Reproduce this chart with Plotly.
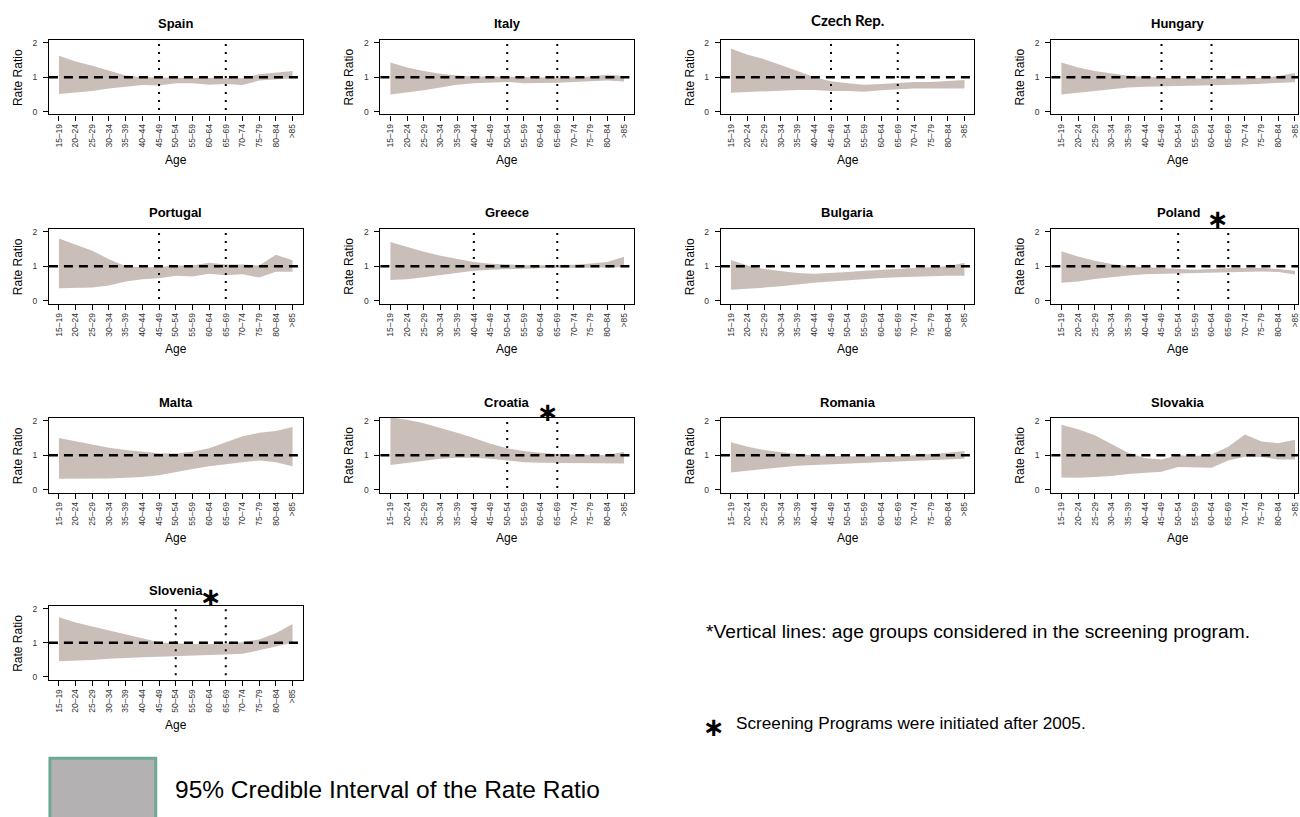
import plotly.graph_objects as go

# ---------------- data ----------------
ages = ["15–19", "20–24", "25–29", "30–34", "35–39", "40–44", "45–49", "50–54",
        "55–59", "60–64", "65–69", "70–74", "75–79", "80–84", ">85"]

countries = ["Spain", "Italy", "Czech Rep.", "Hungary",
             "Portugal", "Greece", "Bulgaria", "Poland",
             "Malta", "Croatia", "Romania", "Slovakia",
             "Slovenia"]

spain_lo = [0.51, 0.55, 0.60, 0.67, 0.73, 0.77, 0.76, 0.82, 0.82, 0.78, 0.80, 0.77, 0.90, 0.93, 0.97]
spain_hi = [1.62, 1.45, 1.33, 1.20, 1.05, 1.00, 0.98, 0.98, 0.98, 0.98, 0.98, 0.97, 1.08, 1.12, 1.18]

italy_lo = [0.50, 0.55, 0.62, 0.70, 0.78, 0.82, 0.85, 0.86, 0.82, 0.82, 0.84, 0.86, 0.88, 0.90, 0.87]
italy_hi = [1.42, 1.28, 1.18, 1.10, 1.05, 1.02, 1.02, 1.01, 0.98, 0.98, 0.98, 1.00, 1.02, 1.07, 1.03]

czech_lo = [0.55, 0.57, 0.60, 0.62, 0.63, 0.63, 0.60, 0.60, 0.58, 0.62, 0.65, 0.67, 0.67, 0.67, 0.67]
czech_hi = [1.83, 1.65, 1.52, 1.36, 1.18, 1.00, 0.88, 0.82, 0.78, 0.80, 0.84, 0.86, 0.86, 0.88, 0.92]

hungary_lo = [0.50, 0.55, 0.60, 0.65, 0.70, 0.72, 0.73, 0.74, 0.75, 0.75, 0.77, 0.79, 0.81, 0.83, 0.85]
hungary_hi = [1.42, 1.28, 1.18, 1.10, 1.04, 1.01, 0.98, 0.97, 0.96, 0.95, 0.96, 0.97, 0.98, 1.03, 1.12]

portugal_lo = [0.36, 0.36, 0.38, 0.44, 0.56, 0.62, 0.65, 0.72, 0.70, 0.78, 0.74, 0.77, 0.67, 0.84, 0.84]
portugal_hi = [1.80, 1.63, 1.45, 1.20, 1.00, 0.97, 0.98, 1.02, 1.02, 1.10, 1.05, 1.05, 1.02, 1.33, 1.17]

greece_lo = [0.60, 0.62, 0.68, 0.75, 0.82, 0.87, 0.90, 0.92, 0.93, 0.94, 0.95, 0.95, 0.95, 0.96, 0.97]
greece_hi = [1.70, 1.55, 1.42, 1.30, 1.20, 1.12, 1.07, 1.04, 1.03, 1.03, 1.03, 1.04, 1.08, 1.12, 1.27]

bulgaria_lo = [0.32, 0.34, 0.38, 0.42, 0.48, 0.52, 0.56, 0.60, 0.64, 0.66, 0.68, 0.70, 0.70, 0.72, 0.72]
bulgaria_hi = [1.18, 1.02, 0.92, 0.85, 0.80, 0.78, 0.80, 0.83, 0.87, 0.90, 0.93, 0.95, 0.97, 1.00, 1.10]

poland_lo = [0.52, 0.56, 0.63, 0.69, 0.73, 0.77, 0.78, 0.79, 0.79, 0.80, 0.82, 0.84, 0.85, 0.83, 0.76]
poland_hi = [1.43, 1.28, 1.16, 1.06, 1.00, 0.97, 0.95, 0.92, 0.90, 0.92, 0.95, 0.95, 0.95, 0.92, 0.87]

malta_lo = [0.32, 0.32, 0.32, 0.33, 0.35, 0.37, 0.42, 0.52, 0.60, 0.68, 0.75, 0.80, 0.85, 0.80, 0.68]
malta_hi = [1.50, 1.40, 1.32, 1.22, 1.15, 1.10, 1.06, 1.05, 1.10, 1.20, 1.38, 1.55, 1.65, 1.70, 1.82]

croatia_lo = [0.72, 0.78, 0.85, 0.90, 0.93, 0.93, 0.90, 0.85, 0.80, 0.78, 0.78, 0.78, 0.78, 0.77, 0.76]
croatia_hi = [2.10, 2.03, 1.93, 1.80, 1.65, 1.50, 1.33, 1.20, 1.12, 1.07, 1.03, 1.02, 1.00, 1.00, 1.10]

romania_lo = [0.50, 0.55, 0.60, 0.65, 0.70, 0.72, 0.74, 0.76, 0.78, 0.80, 0.82, 0.84, 0.86, 0.88, 0.90]
romania_hi = [1.38, 1.25, 1.15, 1.08, 1.03, 1.00, 0.98, 0.97, 0.97, 0.97, 0.98, 1.00, 1.03, 1.07, 1.12]

slovakia_lo = [0.36, 0.35, 0.37, 0.40, 0.46, 0.48, 0.52, 0.66, 0.66, 0.64, 0.85, 0.96, 0.95, 0.88, 0.88]
slovakia_hi = [1.88, 1.75, 1.58, 1.33, 1.07, 0.92, 0.88, 1.00, 0.98, 1.02, 1.25, 1.60, 1.40, 1.35, 1.45]

slovenia_lo = [0.46, 0.47, 0.50, 0.53, 0.56, 0.58, 0.59, 0.60, 0.62, 0.64, 0.66, 0.68, 0.78, 0.88, 1.00]
slovenia_hi = [1.75, 1.60, 1.48, 1.37, 1.25, 1.13, 1.02, 0.98, 0.97, 0.96, 0.98, 1.02, 1.10, 1.28, 1.55]

lower = [spain_lo, italy_lo, czech_lo, hungary_lo, portugal_lo, greece_lo, bulgaria_lo,
         poland_lo, malta_lo, croatia_lo, romania_lo, slovakia_lo, slovenia_lo]
upper = [spain_hi, italy_hi, czech_hi, hungary_hi, portugal_hi, greece_hi, bulgaria_hi,
         poland_hi, malta_hi, croatia_hi, romania_hi, slovakia_hi, slovenia_hi]

screening_groups = {
    "Spain": ["45–49", "65–69"], "Italy": ["50–54", "65–69"],
    "Czech Rep.": ["45–49", "65–69"], "Hungary": ["45–49", "60–64"],
    "Portugal": ["45–49", "65–69"], "Greece": ["40–44", "65–69"],
    "Poland": ["50–54", "65–69"], "Croatia": ["50–54", "65–69"],
    "Slovenia": ["50–54", "65–69"],
}
after_2005 = ["Poland", "Croatia", "Slovenia"]
reference_value = 1
y_ticks = [0, 1, 2]

# ---------------- layout helpers ----------------
W, H = 1300, 817
BAND = "#c9bfb8"
col_px = [(49, 303), (381, 635), (722, 976), (1053, 1300)]
row_px = [(38, 113), (228, 303), (418, 493), (607, 681)]
unit_px = (303 - 49) / 15.2


def fx(p):
    return p / W


def fy(p):
    return 1 - p / H


fig = go.Figure()
layout = dict(
    width=W, height=H, margin=dict(l=0, r=0, t=0, b=0),
    paper_bgcolor="white", plot_bgcolor="white", showlegend=False,
    font=dict(family="Liberation Sans, Arial, sans-serif", color="black"),
)
annotations = []
shapes = []
xs = list(range(len(ages)))

for i, name in enumerate(countries):
    r, c = divmod(i, 4)
    x0p, x1p = col_px[c]
    y0p, y1p = row_px[r]
    n = "" if i == 0 else str(i + 1)
    xa, ya = "x" + n, "y" + n
    xr_end = -0.6 + (x1p - x0p) / unit_px
    layout["xaxis" + n] = dict(
        domain=[fx(x0p), fx(x1p)], anchor=ya, range=[-0.6, xr_end],
        tickmode="array", tickvals=xs, ticktext=ages, tickangle=-90,
        tickfont=dict(size=8.5, color="#333"), ticks="outside", ticklen=5,
        tickcolor="black", showline=True, mirror=True, linecolor="black",
        linewidth=1.2, showgrid=False, zeroline=False, fixedrange=True,
        ticklabeloverflow="allow",
    )
    layout["yaxis" + n] = dict(
        domain=[fy(y1p), fy(y0p)], anchor=xa, range=[-0.08, 2.08],
        tickmode="array", tickvals=y_ticks, tickfont=dict(size=8.5, color="#333"),
        ticks="outside", ticklen=5, tickcolor="black", showline=True, mirror=True,
        linecolor="black", linewidth=1.2, showgrid=False, zeroline=False,
        fixedrange=True, ticklabelstandoff=4,
    )
    fig.add_trace(go.Scatter(x=xs, y=lower[i], mode="lines", line=dict(width=0),
                             hoverinfo="skip", xaxis=xa, yaxis=ya))
    fig.add_trace(go.Scatter(x=xs, y=upper[i], mode="lines", line=dict(width=0),
                             fill="tonexty", fillcolor=BAND, hoverinfo="skip",
                             xaxis=xa, yaxis=ya))
    # reference line at 1
    shapes.append(dict(type="line", xref=xa + " domain", yref=ya, x0=0, x1=1,
                       y0=reference_value, y1=reference_value,
                       line=dict(color="black", width=2.5, dash="9px,6px")))
    # screening age-group lines
    for g in screening_groups.get(name, []):
        k = ages.index(g)
        shapes.append(dict(type="line", xref=xa, yref=ya + " domain", x0=k, x1=k,
                           y0=0.06, y1=0.96,
                           line=dict(color="black", width=2, dash="2px,6px")))
    # titles
    cx = (x0p + x1p) / 2 if c < 3 else (x0p + x0p + 15.2 * unit_px) / 2
    if name == "Czech Rep.":
        tfont = dict(family="Lato, Open Sans, sans-serif", size=15, color="black")
        ty = y0p - 20
    else:
        tfont = dict(family="Liberation Sans, Arial, sans-serif", size=13, color="black")
        ty = y0p - 16
    annotations.append(dict(text="<b>%s</b>" % name, x=fx(cx), y=fy(ty),
                            xref="paper", yref="paper", showarrow=False,
                            xanchor="center", yanchor="middle", font=tfont))
    annotations.append(dict(text="Rate Ratio", x=fx(x0p - 31), y=fy((y0p + y1p) / 2),
                            xref="paper", yref="paper", showarrow=False, textangle=-90,
                            xanchor="center", yanchor="middle",
                            font=dict(size=12, color="black")))
    annotations.append(dict(text="Age", x=fx(cx), y=fy(y1p + 46),
                            xref="paper", yref="paper", showarrow=False,
                            xanchor="center", yanchor="middle",
                            font=dict(size=12, color="black")))

# asterisks for programs started after 2005
ast_pos = {"Poland": (1220, 218), "Croatia": (549, 412), "Slovenia": (211, 598)}
for name in after_2005:
    px_, py_ = ast_pos[name]
    annotations.append(dict(text="<b>∗</b>", x=fx(px_), y=fy(py_), xref="paper",
                            yref="paper", showarrow=False, xanchor="center",
                            yanchor="middle",
                            font=dict(family="DejaVu Sans", size=26, color="black")))

# notes
annotations.append(dict(text="*Vertical lines: age groups considered in the screening program.",
                        x=fx(705), y=fy(633), xref="paper", yref="paper", showarrow=False,
                        xanchor="left", yanchor="middle", font=dict(size=19.2, color="black")))
annotations.append(dict(text="<b>∗</b>", x=fx(715), y=fy(729), xref="paper", yref="paper",
                        showarrow=False, xanchor="center", yanchor="middle",
                        font=dict(family="DejaVu Sans", size=26, color="black")))
annotations.append(dict(text="Screening Programs were initiated after 2005.",
                        x=fx(735), y=fy(725), xref="paper", yref="paper", showarrow=False,
                        xanchor="left", yanchor="middle", font=dict(size=17.2, color="black")))

# legend box
shapes.append(dict(type="rect", xref="paper", yref="paper", x0=fx(50), x1=fx(156),
                   y0=fy(830), y1=fy(760), fillcolor="#b3b1b2",
                   line=dict(color="#6fa898", width=3), layer="above"))
annotations.append(dict(text="95% Credible Interval of the Rate Ratio",
                        x=fx(173), y=fy(791), xref="paper", yref="paper", showarrow=False,
                        xanchor="left", yanchor="middle", font=dict(size=24.5, color="black")))

layout["annotations"] = annotations
layout["shapes"] = shapes
fig.update_layout(**layout)
fig.write_html("out.html", config={"displayModeBar": False},
               post_script="document.body.style.margin='0';document.body.style.overflow='hidden';")
